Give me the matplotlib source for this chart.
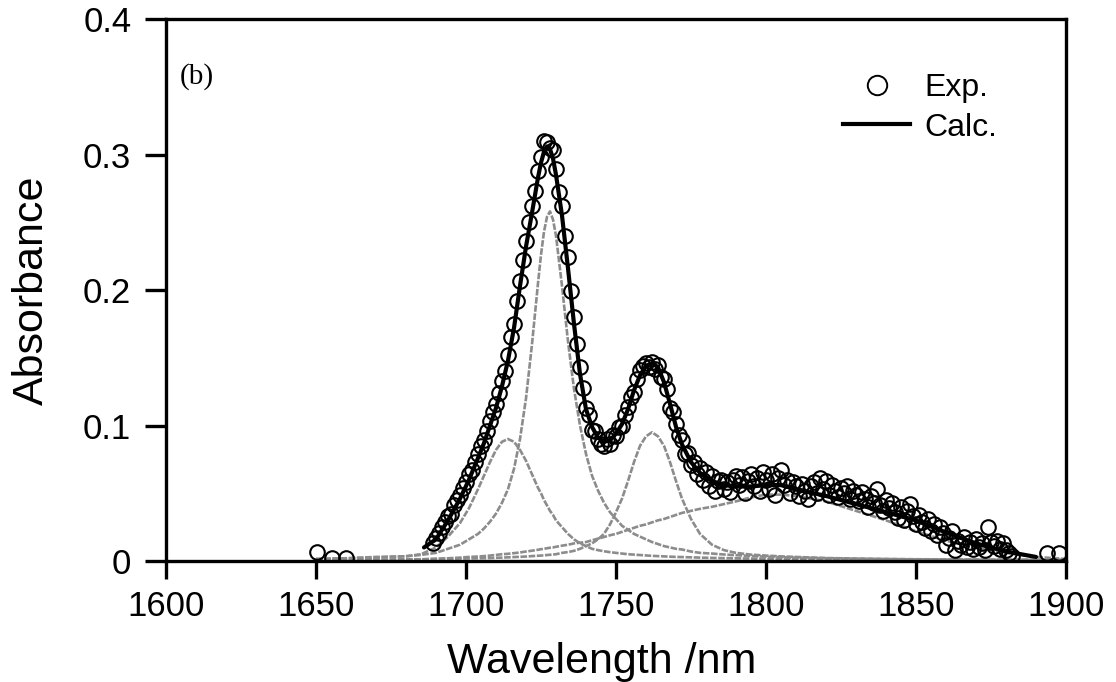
import matplotlib
matplotlib.use('Agg')
import matplotlib.pyplot as plt
from matplotlib.lines import Line2D

plt.rcParams['font.family'] = ['Liberation Sans', 'DejaVu Sans']

# ---------------- data ----------------
x_ticks = [1600, 1650, 1700, 1750, 1800, 1850, 1900]
y_ticks = [0, 0.1, 0.2, 0.3, 0.4]
y_tick_labels = ['0', '0.1', '0.2', '0.3', '0.4']

# grid for the fitted component curves (nm)
x_fit = [1650, 1660, 1670, 1680, 1685, 1690, 1694, 1698, 1701, 1704,
         1706, 1708, 1710, 1712, 1714, 1716, 1718, 1720, 1722, 1724,
         1725, 1726, 1727, 1728, 1729, 1730, 1732, 1734, 1736, 1738,
         1740, 1742, 1744, 1746, 1748, 1750, 1752, 1754, 1756, 1758,
         1760, 1762, 1764, 1766, 1768, 1770, 1772, 1775, 1778, 1782,
         1786, 1790, 1795, 1800, 1805, 1810, 1820, 1830, 1840, 1850,
         1860, 1870, 1880, 1890, 1900]

comp1 = [0.0015, 0.002, 0.003, 0.0035, 0.005, 0.010, 0.018, 0.028, 0.039, 0.053,
         0.063, 0.073, 0.082, 0.088, 0.090, 0.088, 0.082, 0.074, 0.064, 0.054,
         0.050, 0.045, 0.041, 0.037, 0.034, 0.030, 0.025, 0.020, 0.016, 0.013,
         0.011, 0.009, 0.008, 0.0072, 0.0065, 0.006, 0.0055, 0.005, 0.0047, 0.0044,
         0.0041, 0.0038, 0.0036, 0.0034, 0.0032, 0.003, 0.0029, 0.0027, 0.0025, 0.0023,
         0.0021, 0.002, 0.0018, 0.0016, 0.0015, 0.0014, 0.0012, 0.0011, 0.001, 0.0009,
         0.0008, 0.0007, 0.0007, 0.0006, 0.0006]

comp2 = [0.0015, 0.002, 0.0025, 0.0035, 0.0045, 0.006, 0.009, 0.012, 0.016, 0.020,
         0.024, 0.029, 0.035, 0.043, 0.053, 0.068, 0.090, 0.120, 0.160, 0.205,
         0.226, 0.243, 0.254, 0.258, 0.252, 0.240, 0.203, 0.162, 0.127, 0.100,
         0.079, 0.063, 0.052, 0.043, 0.036, 0.031, 0.026, 0.023, 0.020, 0.018,
         0.016, 0.014, 0.0125, 0.011, 0.010, 0.009, 0.0085, 0.007, 0.006, 0.0055,
         0.0048, 0.0043, 0.0037, 0.0032, 0.0028, 0.0025, 0.002, 0.0017, 0.0015, 0.0013,
         0.0012, 0.0011, 0.001, 0.001, 0.0009]

comp3 = [0.0008, 0.0009, 0.001, 0.0012, 0.0013, 0.0014, 0.0016, 0.0018, 0.0019, 0.002,
         0.0021, 0.0022, 0.0024, 0.0025, 0.0027, 0.0029, 0.0031, 0.0033, 0.0036, 0.0039,
         0.004, 0.0042, 0.0044, 0.0046, 0.0048, 0.005, 0.006, 0.0066, 0.0075, 0.009,
         0.011, 0.013, 0.016, 0.020, 0.027, 0.036, 0.046, 0.059, 0.073, 0.085,
         0.092, 0.095, 0.092, 0.085, 0.073, 0.059, 0.046, 0.031, 0.020, 0.012,
         0.008, 0.006, 0.0047, 0.004, 0.0034, 0.003, 0.0022, 0.0018, 0.0014, 0.0012,
         0.001, 0.0009, 0.0008, 0.0007, 0.0006]

comp4 = [0.0002, 0.0003, 0.0005, 0.001, 0.0012, 0.0017, 0.002, 0.0025, 0.003, 0.0033,
         0.0036, 0.004, 0.0045, 0.005, 0.0053, 0.0058, 0.0063, 0.007, 0.0076, 0.0083,
         0.0087, 0.009, 0.0094, 0.0098, 0.010, 0.0105, 0.0113, 0.012, 0.013, 0.0135,
         0.014, 0.0153, 0.0165, 0.0177, 0.019, 0.020, 0.0215, 0.023, 0.0245, 0.026,
         0.027, 0.0285, 0.030, 0.031, 0.0325, 0.034, 0.0355, 0.037, 0.0385, 0.040,
         0.042, 0.044, 0.047, 0.049, 0.049, 0.048, 0.044, 0.037, 0.030, 0.022,
         0.015, 0.010, 0.006, 0.003, 0.0015]

# calculated (fitted) total spectrum
calc_x = [1686, 1690, 1694, 1698, 1701, 1704, 1706, 1708, 1710, 1712,
          1714, 1716, 1718, 1720, 1722, 1724, 1725, 1726, 1727, 1728,
          1729, 1730, 1732, 1734, 1736, 1738, 1740, 1742, 1744, 1746,
          1748, 1750, 1752, 1754, 1756, 1758, 1760, 1762, 1764, 1766,
          1768, 1770, 1772, 1775, 1778, 1782, 1786, 1790, 1795, 1800,
          1805, 1810, 1820, 1830, 1840, 1850, 1860, 1870, 1880, 1890]
calc_y = [0.010, 0.016, 0.030, 0.046, 0.060, 0.076, 0.087, 0.100, 0.113, 0.129,
          0.148, 0.172, 0.203, 0.232, 0.257, 0.283, 0.294, 0.302, 0.306, 0.304,
          0.297, 0.285, 0.255, 0.216, 0.175, 0.138, 0.112, 0.099, 0.091, 0.088,
          0.089, 0.094, 0.101, 0.112, 0.126, 0.137, 0.144, 0.146, 0.143, 0.132,
          0.116, 0.099, 0.086, 0.073, 0.065, 0.059, 0.056, 0.055, 0.055, 0.056,
          0.056, 0.053, 0.048, 0.042, 0.036, 0.030, 0.021, 0.013, 0.007, 0.003]

# experimental points
exp_x = [1650.3, 1655.3, 1660.0,
         1689, 1690, 1691, 1692, 1693, 1694, 1695, 1696, 1697, 1698,
         1699, 1700, 1701, 1702, 1703, 1704, 1705, 1706, 1707, 1708,
         1709, 1710, 1711, 1712, 1713, 1714, 1715, 1716, 1717, 1718,
         1719, 1720, 1721, 1722, 1723, 1724, 1725, 1726, 1727, 1728,
         1729, 1730, 1731, 1732, 1733, 1734, 1735, 1736, 1737, 1738,
         1739, 1740, 1741, 1742, 1743, 1744, 1745, 1746, 1747, 1748,
         1749, 1750, 1751, 1752, 1753, 1754, 1755, 1756, 1757, 1758,
         1759, 1760, 1761, 1762, 1763, 1764, 1765, 1766, 1767, 1768,
         1769, 1770, 1771, 1772, 1773, 1774, 1775, 1776, 1777, 1778,
         1779, 1780, 1781, 1782, 1783, 1784, 1785, 1786, 1787, 1788,
         1789, 1790, 1791, 1792, 1793, 1794, 1795, 1796, 1797, 1798,
         1799, 1800, 1801, 1802, 1803, 1804, 1805, 1806, 1807, 1808,
         1809, 1810, 1811, 1812, 1813, 1814, 1815, 1816, 1817, 1818,
         1819, 1820, 1821, 1822, 1823, 1824, 1825, 1826, 1827, 1828,
         1829, 1830, 1831, 1832, 1833, 1834, 1835, 1836, 1837, 1838,
         1839, 1840, 1841, 1842, 1843, 1844, 1845, 1846, 1847, 1848,
         1849, 1850, 1851, 1852, 1853, 1854, 1855, 1856, 1857, 1858,
         1859, 1860, 1861, 1862, 1863, 1864, 1865, 1866, 1867, 1868,
         1869, 1870, 1871, 1872, 1873, 1874, 1875, 1876, 1877, 1878,
         1879, 1880, 1881, 1882,
         1893.7, 1897.7]
exp_y = [0.007, 0.002, 0.002,
         0.013, 0.017, 0.021, 0.025, 0.029, 0.033, 0.035, 0.041, 0.045, 0.049,
         0.054, 0.058, 0.064, 0.067, 0.073, 0.079, 0.085, 0.089, 0.096, 0.103,
         0.110, 0.116, 0.124, 0.133, 0.140, 0.152, 0.165, 0.175, 0.192, 0.207,
         0.222, 0.236, 0.250, 0.262, 0.273, 0.288, 0.298, 0.310, 0.309, 0.305,
         0.303, 0.289, 0.272, 0.262, 0.240, 0.224, 0.199, 0.180, 0.160, 0.143,
         0.128, 0.113, 0.108, 0.097, 0.096, 0.090, 0.086, 0.085, 0.090, 0.086,
         0.093, 0.092, 0.099, 0.100, 0.108, 0.114, 0.121, 0.125, 0.134, 0.141,
         0.144, 0.146, 0.143, 0.147, 0.142, 0.145, 0.136, 0.134, 0.127, 0.113,
         0.110, 0.101, 0.093, 0.089, 0.079, 0.080, 0.071, 0.073, 0.064, 0.069,
         0.060, 0.066, 0.055, 0.063, 0.052, 0.059, 0.060, 0.053, 0.058, 0.051,
         0.060, 0.063, 0.056, 0.062, 0.050, 0.059, 0.064, 0.055, 0.061, 0.052,
         0.066, 0.060, 0.053, 0.064, 0.049, 0.061, 0.067, 0.056, 0.060, 0.050,
         0.058, 0.055, 0.048, 0.057, 0.052, 0.046, 0.055, 0.058, 0.050, 0.061,
         0.053, 0.059, 0.049, 0.056, 0.052, 0.047, 0.054, 0.050, 0.055, 0.046,
         0.052, 0.049, 0.044, 0.051, 0.046, 0.040, 0.048, 0.043, 0.053, 0.041,
         0.037, 0.045, 0.039, 0.043, 0.036, 0.032, 0.040, 0.030, 0.037, 0.042,
         0.033, 0.027, 0.034, 0.029, 0.024, 0.031, 0.022, 0.027, 0.019, 0.025,
         0.021, 0.012, 0.017, 0.022, 0.008, 0.015, 0.012, 0.018, 0.010, 0.014,
         0.009, 0.016, 0.010, 0.013, 0.008, 0.025, 0.014, 0.011, 0.015, 0.009,
         0.013, 0.008, 0.006, 0.004,
         0.006, 0.006]

# ---------------- figure ----------------
W, H = 1116, 682
fig = plt.figure(figsize=(W / 100, H / 100), dpi=100)
ax = fig.add_axes([166 / W, 1 - 561 / H, 900 / W, 542 / H])

grey = '#8c8c8c'
for comp in (comp1, comp2, comp3, comp4):
    ax.plot(x_fit, comp, color=grey, lw=1.9, ls=(0, (2.5, 0.6)), zorder=2)

ax.plot(calc_x, calc_y, color='black', lw=3.0, zorder=3, solid_capstyle='round')
ax.plot(exp_x, exp_y, 'o', mfc='none', mec='black', ms=10.5, mew=1.5, zorder=4)

ax.set_xlim(1600, 1900)
ax.set_ylim(0, 0.4)
ax.set_xticks(x_ticks)
ax.set_yticks(y_ticks)
ax.set_yticklabels(y_tick_labels)

for sp in ax.spines.values():
    sp.set_linewidth(2.4)
ax.tick_params(axis='both', which='major', direction='out', width=2.4,
               labelsize=25, top=False, right=False)
ax.tick_params(axis='y', length=15, pad=10)
ax.tick_params(axis='x', length=13, pad=8)

ax.set_xlabel('Wavelength /nm', fontsize=31)
ax.set_ylabel('Absorbance', fontsize=31)
ax.xaxis.set_label_coords(0.484, -0.150)
ax.yaxis.set_label_coords(-0.127, 0.5)

handles = [Line2D([], [], marker='o', ls='none', mfc='none', mec='black', ms=14, mew=1.4),
           Line2D([], [], color='black', lw=3.0)]
ax.legend(handles, ['Exp.', 'Calc.'], loc='upper left',
          bbox_to_anchor=(843 / W, 1 - 73 / H), bbox_transform=fig.transFigure,
          frameon=False, fontsize=23, handlelength=2.1, handletextpad=0.45,
          labelspacing=0.3, borderpad=0, borderaxespad=0)

fig.text(180 / W, 1 - 84 / H, '(b)', family=['Liberation Serif', 'DejaVu Serif'],
         fontsize=21, va='baseline', ha='left')

fig.savefig('out.png', dpi=100)
